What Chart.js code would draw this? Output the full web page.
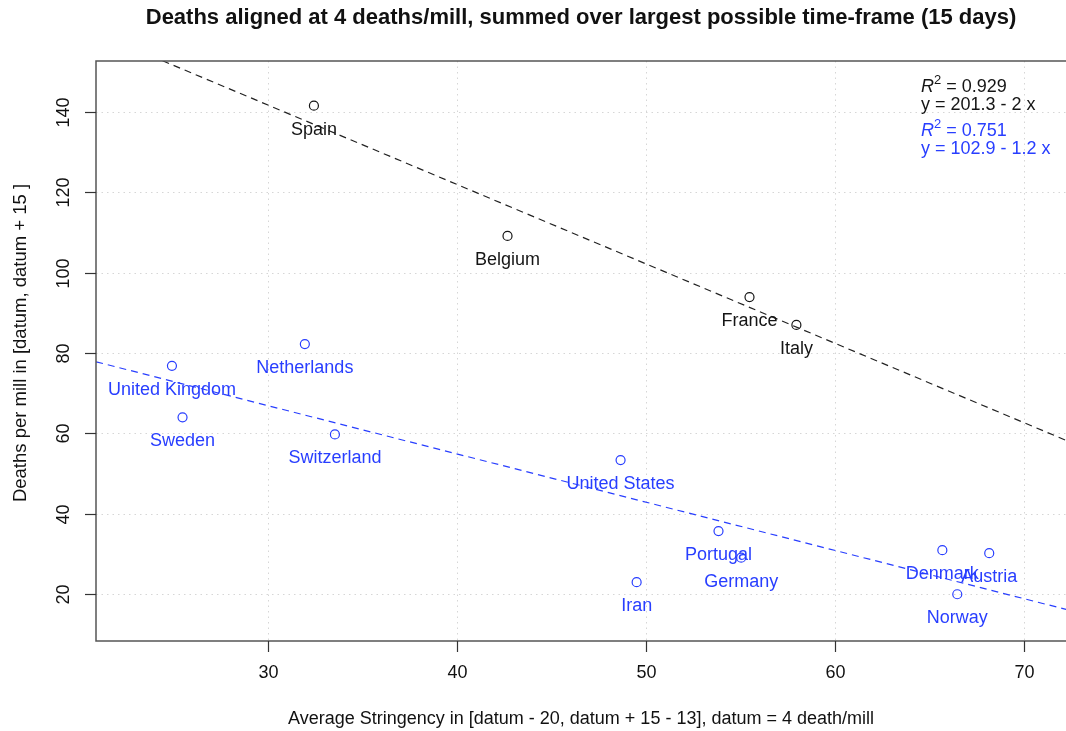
<!DOCTYPE html>
<html>
<head>
<meta charset="utf-8">
<script src="https://cdn.jsdelivr.net/npm/chart.js@4"></script>
<style>
  html, body { margin: 0; padding: 0; background: #fff; overflow: hidden; }
  canvas { display: block; }
</style>
</head>
<body>
<canvas id="deaths-chart" width="1080" height="731"></canvas>
<script>
// countries above the black fit
var blackNames = ['Spain', 'Belgium', 'France', 'Italy'];
var blackX = [32.42, 42.66, 55.46, 57.94];
var blackY = [141.5, 109.1, 93.9, 86.97];

// countries along the blue fit
var blueNames = ['United Kingdom', 'Netherlands', 'Sweden', 'Switzerland', 'United States',
    'Portugal', 'Germany', 'Iran', 'Denmark', 'Austria', 'Norway'];
var blueX = [24.91, 31.94, 25.47, 33.53, 48.64, 53.82, 55.02, 49.49, 65.66, 68.14, 66.45];
var blueY = [76.8, 82.2, 64.0, 59.75, 53.36, 35.7, 29.1, 23.0, 30.95, 30.2, 20.0];

// regression line ends
var fitX = [20.9, 72.64];
var blackFitY = [159.6, 57.4];
var blueFitY = [77.8, 15.7];

var xTicks = [30, 40, 50, 60, 70];
var yTicks = [20, 40, 60, 80, 100, 120, 140];

var titleText = 'Deaths aligned at 4 deaths/mill, summed over largest possible time-frame (15 days)';
var xTitle = 'Average Stringency in [datum - 20, datum + 15 - 13], datum = 4 death/mill';
var yTitle = 'Deaths per mill in [datum, datum + 15 ]';
var blackStats = ['0.929', 'y = 201.3 - 2 x'];
var blueStats = ['0.751', 'y = 102.9 - 1.2 x'];

var BLUE = 'rgb(40,62,255)';
var BLACK = '#151515';
var FONT = '"Liberation Sans", Arial, sans-serif';

function toPoints(xs, ys) {
    return xs.map((x, i) => ({ x: x, y: ys[i] }));
}

var gridPlugin = {
    id: 'rgrid',
    beforeDatasetsDraw(chart) {
        const ctx = chart.ctx;
        const area = chart.chartArea;
        const xs = chart.scales.x;
        const ys = chart.scales.y;
        ctx.save();
        ctx.strokeStyle = '#d6d6d6';
        ctx.lineWidth = 1;
        ctx.setLineDash([1.5, 4]);
        xTicks.forEach(t => {
            const px = Math.round(xs.getPixelForValue(t)) + 0.5;
            ctx.beginPath();
            ctx.moveTo(px, area.top);
            ctx.lineTo(px, area.bottom);
            ctx.stroke();
        });
        yTicks.forEach(t => {
            const py = Math.round(ys.getPixelForValue(t)) + 0.5;
            ctx.beginPath();
            ctx.moveTo(area.left, py);
            ctx.lineTo(area.right, py);
            ctx.stroke();
        });
        ctx.restore();
    }
};

var decorPlugin = {
    id: 'rdecor',
    afterDraw(chart) {
        const ctx = chart.ctx;
        const area = chart.chartArea;
        const xs = chart.scales.x;
        const ys = chart.scales.y;
        const midX = 581;
        ctx.save();

        // box
        ctx.strokeStyle = '#555';
        ctx.lineWidth = 1.5;
        ctx.strokeRect(area.left, area.top, area.right - area.left, area.bottom - area.top);

        // ticks + tick labels
        ctx.strokeStyle = '#333';
        ctx.lineWidth = 1.2;
        ctx.fillStyle = '#111';
        ctx.font = '18px ' + FONT;
        ctx.textAlign = 'center';
        ctx.textBaseline = 'middle';
        xTicks.forEach(t => {
            const px = Math.round(xs.getPixelForValue(t)) + 0.5;
            ctx.beginPath();
            ctx.moveTo(px, area.bottom);
            ctx.lineTo(px, area.bottom + 11);
            ctx.stroke();
            ctx.fillText(String(t), px, 673);
        });
        yTicks.forEach(t => {
            const py = Math.round(ys.getPixelForValue(t)) + 0.5;
            ctx.beginPath();
            ctx.moveTo(area.left, py);
            ctx.lineTo(area.left - 11, py);
            ctx.stroke();
            ctx.save();
            ctx.translate(64, py);
            ctx.rotate(-Math.PI / 2);
            ctx.fillText(String(t), 0, 0);
            ctx.restore();
        });

        // titles
        ctx.font = 'bold 22px ' + FONT;
        ctx.fillText(titleText, midX, 18);
        ctx.font = '18px ' + FONT;
        ctx.fillText(xTitle, midX, 719);
        ctx.save();
        ctx.translate(21, 343);
        ctx.rotate(-Math.PI / 2);
        ctx.font = '18.5px ' + FONT;
        ctx.fillText(yTitle, 0, 0);
        ctx.restore();

        // point labels, under each point
        ctx.font = '18px ' + FONT;
        [[2, blackNames, BLACK], [3, blueNames, BLUE]].forEach(([idx, names, color]) => {
            ctx.fillStyle = color;
            chart.getDatasetMeta(idx).data.forEach((el, j) => {
                ctx.fillText(names[j], el.x, el.y + 24);
            });
        });

        // R^2 and fit equations
        ctx.textAlign = 'left';
        ctx.textBaseline = 'alphabetic';
        [[blackStats, BLACK, 92], [blueStats, BLUE, 136]].forEach(([stats, color, base]) => {
            ctx.fillStyle = color;
            let x = 921;
            ctx.font = 'italic 18px ' + FONT;
            ctx.fillText('R', x, base);
            x += ctx.measureText('R').width;
            ctx.font = '13px ' + FONT;
            ctx.fillText('2', x, base - 8);
            x += ctx.measureText('2').width;
            ctx.font = '18px ' + FONT;
            ctx.fillText(' = ' + stats[0], x, base);
            ctx.fillText(stats[1], 921, base + 18);
        });

        ctx.restore();
    }
};

var chartEl = document.getElementById('deaths-chart');

var deathsChart = new Chart(chartEl, {
    type: 'scatter',
    data: {
        datasets: [
            {
                type: 'line',
                data: toPoints(fitX, blackFitY),
                borderColor: '#222',
                borderWidth: 1.2,
                borderDash: [7, 5],
                pointRadius: 0,
                fill: false
            },
            {
                type: 'line',
                data: toPoints(fitX, blueFitY),
                borderColor: BLUE,
                borderWidth: 1.2,
                borderDash: [7, 5],
                pointRadius: 0,
                fill: false
            },
            {
                data: toPoints(blackX, blackY),
                pointRadius: 4.5,
                borderWidth: 1.2,
                borderColor: BLACK,
                backgroundColor: 'rgba(0,0,0,0)'
            },
            {
                data: toPoints(blueX, blueY),
                pointRadius: 4.5,
                borderWidth: 1.2,
                borderColor: BLUE,
                backgroundColor: 'rgba(0,0,0,0)'
            }
        ]
    },
    options: {
        responsive: false,
        animation: false,
        events: [],
        layout: { padding: { left: 96, top: 61, right: 5, bottom: 90 } },
        plugins: {
            legend: { display: false },
            tooltip: { enabled: false }
        },
        scales: {
            x: { type: 'linear', min: 20.893, max: 72.64, display: false },
            y: { type: 'linear', min: 8.37, max: 152.6, display: false }
        }
    },
    plugins: [gridPlugin, decorPlugin]
});
</script>
</body>
</html>
